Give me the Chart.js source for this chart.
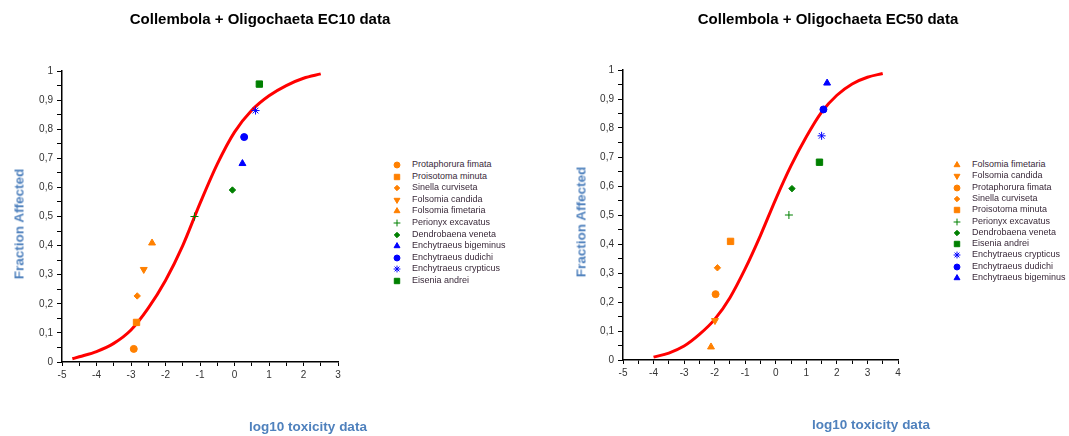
<!DOCTYPE html>
<html>
<head>
<meta charset="utf-8">
<script src="https://cdn.jsdelivr.net/npm/chart.js@4.4.1/dist/chart.umd.min.js"></script>
<style>
  html, body { margin: 0; padding: 0; background: #fff; }
  #page { position: relative; width: 1069px; height: 436px; overflow: hidden;
          font-family: "Liberation Sans", Arial, sans-serif; }
  canvas.plot { position: absolute; top: 0; }
  .title { position: absolute; font-weight: bold; font-size: 15px; color: #000;
           white-space: nowrap; transform: translate(-50%, -50%); }
  .axis-title { position: absolute; font-weight: bold; font-size: 13.5px; color: #4f81bd;
                white-space: nowrap; transform: translate(-50%, -50%); }
  .axis-title.vert { transform: translate(-50%, -50%) rotate(-90deg); }
  .legend-text { position: absolute; font-size: 9px; line-height: 11px; color: #3a2a3a; white-space: nowrap; }
  .legend-mark { position: absolute; width: 12px; height: 12px; }
</style>
</head>
<body>
<div id="page">
  <canvas id="ec10" class="plot" width="360" height="436" style="left:0px"></canvas>
  <canvas id="ec50" class="plot" width="360" height="436" style="left:560px"></canvas>

  <div class="title" style="left:260px; top:18px">Collembola + Oligochaeta EC10 data</div>
  <div class="title" style="left:828px; top:18px">Collembola + Oligochaeta EC50 data</div>

  <div class="axis-title vert" style="left:19px; top:224px">Fraction Affected</div>
  <div class="axis-title vert" style="left:581px; top:222px">Fraction Affected</div>
  <div class="axis-title" style="left:308px; top:426px">log10 toxicity data</div>
  <div class="axis-title" style="left:871px; top:424px">log10 toxicity data</div>

  <div id="legend-ec10"></div>
  <div id="legend-ec50"></div>
</div>

<script>
// ── EC10 data ────────────────────────────────────────────────────────────────
const ec10Species = [
  "Protaphorura fimata", "Proisotoma minuta", "Sinella curviseta", "Folsomia candida",
  "Folsomia fimetaria", "Perionyx excavatus", "Dendrobaena veneta", "Enchytraeus bigeminus",
  "Enchytraeus dudichi", "Enchytraeus crypticus", "Eisenia andrei",
];
const ec10X = [-2.92, -2.84, -2.82, -2.63, -2.39, -1.16, -0.06, 0.23, 0.28, 0.61, 0.72];
const ec10Y = [0.045, 0.136, 0.227, 0.318, 0.409, 0.5, 0.591, 0.682, 0.773, 0.864, 0.955];

// fitted curve
const ec10CurveX = [-4.7, -4.5, -4.0, -3.5, -3.0, -2.5, -2.0, -1.5, -1.0, -0.5, 0.0, 0.5, 1.0, 1.5, 2.0, 2.5];
const ec10CurveY = [0.011, 0.018, 0.036, 0.064, 0.11, 0.185, 0.28, 0.40, 0.545, 0.68, 0.79, 0.865, 0.915, 0.95, 0.975, 0.99];

// ── EC50 data ────────────────────────────────────────────────────────────────
const ec50Species = [
  "Folsomia fimetaria", "Folsomia candida", "Protaphorura fimata", "Sinella curviseta",
  "Proisotoma minuta", "Perionyx excavatus", "Dendrobaena veneta", "Eisenia andrei",
  "Enchytraeus crypticus", "Enchytraeus dudichi", "Enchytraeus bigeminus",
];
const ec50X = [-2.12, -1.99, -1.97, -1.91, -1.48, 0.43, 0.53, 1.43, 1.50, 1.56, 1.68];
const ec50Y = [0.045, 0.136, 0.227, 0.318, 0.409, 0.5, 0.591, 0.682, 0.773, 0.864, 0.955];

const ec50CurveX = [-4.0, -3.5, -3.0, -2.5, -2.0, -1.5, -1.0, -0.5, 0.0, 0.5, 1.0, 1.5, 2.0, 2.5, 3.0, 3.5];
const ec50CurveY = [0.01, 0.024, 0.048, 0.088, 0.14, 0.215, 0.315, 0.43, 0.555, 0.67, 0.77, 0.855, 0.913, 0.952, 0.975, 0.988];

// ── Marker styles per species ────────────────────────────────────────────────
const ORANGE = "#ff8000";
const GREEN  = "#008000";
const BLUE   = "#0000ff";

const SPECIES_STYLE = {
  "Protaphorura fimata":   { shape: "circle",   color: ORANGE, rot: 0,   r: 3.5 },
  "Proisotoma minuta":     { shape: "rect",     color: ORANGE, rot: 0,   r: 4.5 },
  "Sinella curviseta":     { shape: "rectRot",  color: ORANGE, rot: 0,   r: 3.2 },
  "Folsomia candida":      { shape: "triangle", color: ORANGE, rot: 180, r: 4 },
  "Folsomia fimetaria":    { shape: "triangle", color: ORANGE, rot: 0,   r: 4 },
  "Perionyx excavatus":    { shape: "cross",    color: GREEN,  rot: 0,   r: 4 },
  "Dendrobaena veneta":    { shape: "rectRot",  color: GREEN,  rot: 0,   r: 3.2 },
  "Enchytraeus bigeminus": { shape: "triangle", color: BLUE,   rot: 0,   r: 4 },
  "Enchytraeus dudichi":   { shape: "circle",   color: BLUE,   rot: 0,   r: 3.5 },
  "Enchytraeus crypticus": { shape: "star",     color: BLUE,   rot: 0,   r: 4 },
  "Eisenia andrei":        { shape: "rect",     color: GREEN,  rot: 0,   r: 4.5 },
};

Chart.defaults.font.family = '"Liberation Sans", Arial, sans-serif';
Chart.defaults.color = "#333";

const isStep = (v, step) => Math.abs(v / step - Math.round(v / step)) < 1e-6;

function buildDatasets(species, xs, ys, curveX, curveY) {
  const sets = species.map((name, i) => {
    const st = SPECIES_STYLE[name];
    return {
      label: name,
      data: [{ x: xs[i], y: ys[i] }],
      pointStyle: st.shape,
      pointRotation: st.rot,
      pointRadius: st.r,
      pointHoverRadius: st.r,
      backgroundColor: st.color,
      borderColor: st.color,
      borderWidth: 1,
    };
  });
  // curve last so it is painted beneath the markers
  sets.push({
    label: "fit",
    data: curveX.map((x, i) => ({ x, y: curveY[i] })),
    showLine: true,
    pointRadius: 0,
    borderColor: "#ff0000",
    borderWidth: 3,
    cubicInterpolationMode: "monotone",
  });
  return sets;
}

function makeChart(id, datasets, xMin, xMax, box) {
  const tickFont = { size: 10 };
  return new Chart(document.getElementById(id), {
    type: "scatter",
    data: { datasets },
    options: {
      responsive: false,
      animation: false,
      devicePixelRatio: 1,
      layout: { padding: { left: 0, right: box.right, top: box.top, bottom: 0 } },
      plugins: { legend: { display: false }, tooltip: { enabled: false } },
      scales: {
        x: {
          type: "linear", min: xMin, max: xMax,
          ticks: {
            stepSize: 0.5, autoSkip: false, maxRotation: 0, minRotation: 0,
            padding: 3, color: "#333", font: tickFont,
            callback: (v) => (isStep(v, 1) ? String(Math.round(v)) : ""),
          },
          grid: { drawOnChartArea: false, drawTicks: true, tickLength: 4, color: "#000" },
          border: { display: true, color: "#000", width: 1.5 },
          afterFit: (s) => { s.height = box.bottom; s.paddingLeft = 0; s.paddingRight = 0; },
        },
        y: {
          type: "linear", min: 0, max: 1,
          ticks: {
            stepSize: 0.05, autoSkip: false, padding: 4, color: "#333", font: tickFont,
            callback: (v) => {
              if (!isStep(v, 0.1)) return "";
              if (isStep(v, 1)) return String(Math.round(v));
              return v.toFixed(1).replace(".", ",");
            },
          },
          grid: { drawOnChartArea: false, drawTicks: true, tickLength: 5, color: "#000" },
          border: { display: true, color: "#000", width: 1.5 },
          afterFit: (s) => { s.width = box.left; s.paddingTop = 0; s.paddingBottom = 0; },
        },
      },
    },
  });
}

// ── HTML legend with the library's own point shapes ──────────────────────────
function buildLegend(hostId, species, markX, textX, topY, rowH) {
  const host = document.getElementById(hostId);
  species.forEach((name, i) => {
    const st = SPECIES_STYLE[name];
    const cy = topY + i * rowH;

    const c = document.createElement("canvas");
    c.width = 12; c.height = 12;
    c.className = "legend-mark";
    c.style.left = (markX - 6) + "px";
    c.style.top = (cy - 6) + "px";
    const ctx = c.getContext("2d");
    ctx.fillStyle = st.color;
    ctx.strokeStyle = st.color;
    ctx.lineWidth = 1;
    Chart.helpers.drawPoint(ctx, { pointStyle: st.shape, rotation: st.rot, radius: st.r * 0.85, borderWidth: 1 }, 6, 6);
    host.appendChild(c);

    const t = document.createElement("div");
    t.className = "legend-text";
    t.textContent = name;
    t.style.left = textX + "px";
    t.style.top = (cy - 6) + "px";
    host.appendChild(t);
  });
}

makeChart("ec10", buildDatasets(ec10Species, ec10X, ec10Y, ec10CurveX, ec10CurveY), -5, 3,
  { left: 62, right: 22, top: 71, bottom: 74 });
makeChart("ec50", buildDatasets(ec50Species, ec50X, ec50Y, ec50CurveX, ec50CurveY), -5, 4,
  { left: 63, right: 22, top: 70, bottom: 76 });

buildLegend("legend-ec10", ec10Species, 397, 412, 165, 11.6);
buildLegend("legend-ec50", ec50Species, 957, 972, 165, 11.3);
</script>
</body>
</html>
